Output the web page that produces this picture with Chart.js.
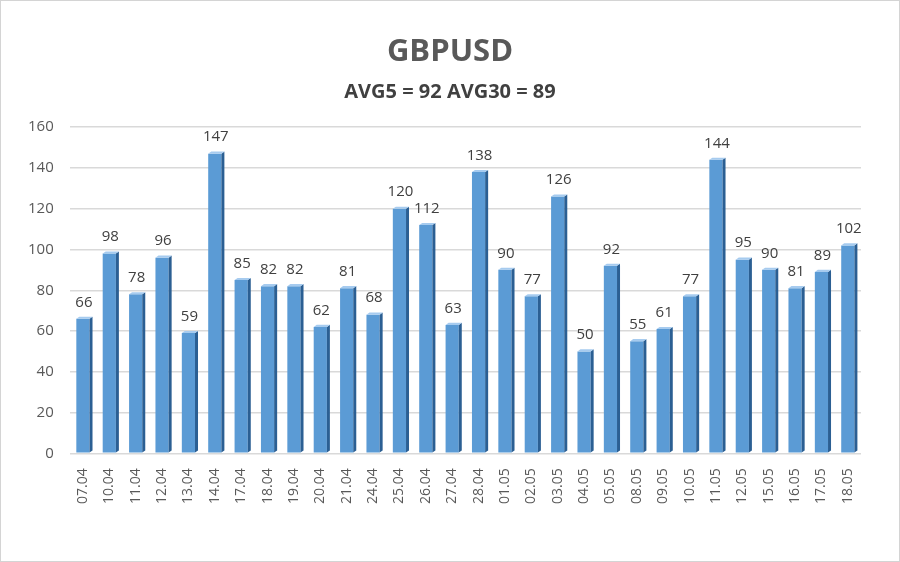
<!DOCTYPE html>
<html>
<head>
<meta charset="utf-8">
<script src="https://cdn.jsdelivr.net/npm/chart.js@4.4.1/dist/chart.umd.min.js"></script>
<style>
  html, body { margin: 0; padding: 0; background: #fff; }
  #wrap { width: 898px; height: 560px; border: 1px solid #d4d4d4; }
</style>
</head>
<body>
<div id="wrap"><canvas id="Chart" width="898" height="560"></canvas></div>
<script>
const DATES = ['07.04', '10.04', '11.04', '12.04', '13.04', '14.04', '17.04', '18.04', '19.04', '20.04',
               '21.04', '24.04', '25.04', '26.04', '27.04', '28.04', '01.05', '02.05', '03.05', '04.05',
               '05.05', '08.05', '09.05', '10.05', '11.05', '12.05', '15.05', '16.05', '17.05', '18.05'];
const VOLATILITY = [66, 98, 78, 96, 59, 147, 85, 82, 82, 62,
                    81, 68, 120, 112, 63, 138, 90, 77, 126, 50,
                    92, 55, 61, 77, 144, 95, 90, 81, 89, 102];
const Y_TICKS = [0, 20, 40, 60, 80, 100, 120, 140, 160];
const TITLE = 'GBPUSD';
const SUBTITLE = 'AVG5 = 92 AVG30 = 89';

const FONT = "'Open Sans', 'Liberation Sans', sans-serif";

const barFill = (ctx) => {
    const el = ctx.element;
    if (!el || el.x === undefined) return '#5b9bd5';
    const g = ctx.chart.ctx.createLinearGradient(el.x - el.width / 2, 0, el.x + el.width / 2, 0);
    g.addColorStop(0, '#8ab9e6');
    g.addColorStop(0.5, '#68a2dc');
    g.addColorStop(1, '#4f8cca');
    return g;
};

// side + top faces of the bars, and the value labels
const bar3d = {
    id: 'bar3d',
    afterDatasetsDraw(chart) {
        const c = chart.ctx;
        const meta = chart.getDatasetMeta(0);
        const d = 3;
        c.save();
        meta.data.forEach((bar, i) => {
            const l = bar.x - bar.width / 2;
            const r = bar.x + bar.width / 2;
            c.fillStyle = '#2b5f93';
            c.beginPath();
            c.moveTo(r, bar.y);
            c.lineTo(r + d, bar.y - d * 0.7);
            c.lineTo(r + d, bar.base - d * 0.7);
            c.lineTo(r, bar.base);
            c.closePath();
            c.fill();
            c.fillStyle = '#a6cbef';
            c.beginPath();
            c.moveTo(l, bar.y);
            c.lineTo(l + d, bar.y - d * 0.7);
            c.lineTo(r + d, bar.y - d * 0.7);
            c.lineTo(r, bar.y);
            c.closePath();
            c.fill();

            c.fillStyle = '#404040';
            c.font = '15px ' + FONT;
            c.textAlign = 'center';
            c.textBaseline = 'bottom';
            c.fillText(VOLATILITY[i], bar.x + 1, bar.y - 9);
        });
        c.restore();
    }
};

const data = {
    labels: DATES,
    datasets: [{
        data: VOLATILITY,
        backgroundColor: barFill,
        borderWidth: 0,
        barPercentage: 0.5,
        categoryPercentage: 1.0
    }]
};

const config = {
    type: 'bar',
    data,
    options: {
        responsive: false,
        animation: false,
        layout: { padding: { left: 11, right: 11, top: 10, bottom: 50 } },
        plugins: {
            legend: { display: false },
            tooltip: { enabled: false },
            title: {
                display: true,
                text: TITLE,
                color: '#595959',
                font: { family: FONT, size: 31, weight: 'bold' },
                padding: { top: 23, bottom: 9 }
            },
            subtitle: {
                display: true,
                text: SUBTITLE,
                color: '#404040',
                font: { family: FONT, size: 20, weight: 'bold' },
                padding: { top: 0, bottom: 23 }
            }
        },
        scales: {
            x: {
                grid: { display: false },
                border: { display: false },
                ticks: {
                    color: '#595959',
                    font: { family: FONT, size: 14 },
                    minRotation: 90,
                    maxRotation: 90,
                    autoSkip: false,
                    padding: 7
                }
            },
            y: {
                min: 0,
                max: 160,
                afterBuildTicks: (axis) => { axis.ticks = Y_TICKS.map(v => ({ value: v })); },
                grid: { color: '#d9d9d9', lineWidth: 1.5, drawTicks: false },
                border: { display: false },
                ticks: {
                    color: '#595959',
                    font: { family: FONT, size: 15 },
                    padding: 16
                }
            },
            // empty right margin so the titles stay centred on the page
            yRight: {
                position: 'right',
                grid: { display: false },
                border: { display: false },
                ticks: { display: false },
                afterFit: (axis) => { axis.width = 27; }
            }
        }
    },
    plugins: [bar3d]
};

const myChart = new Chart(document.getElementById('Chart'), config);
</script>
</body>
</html>
